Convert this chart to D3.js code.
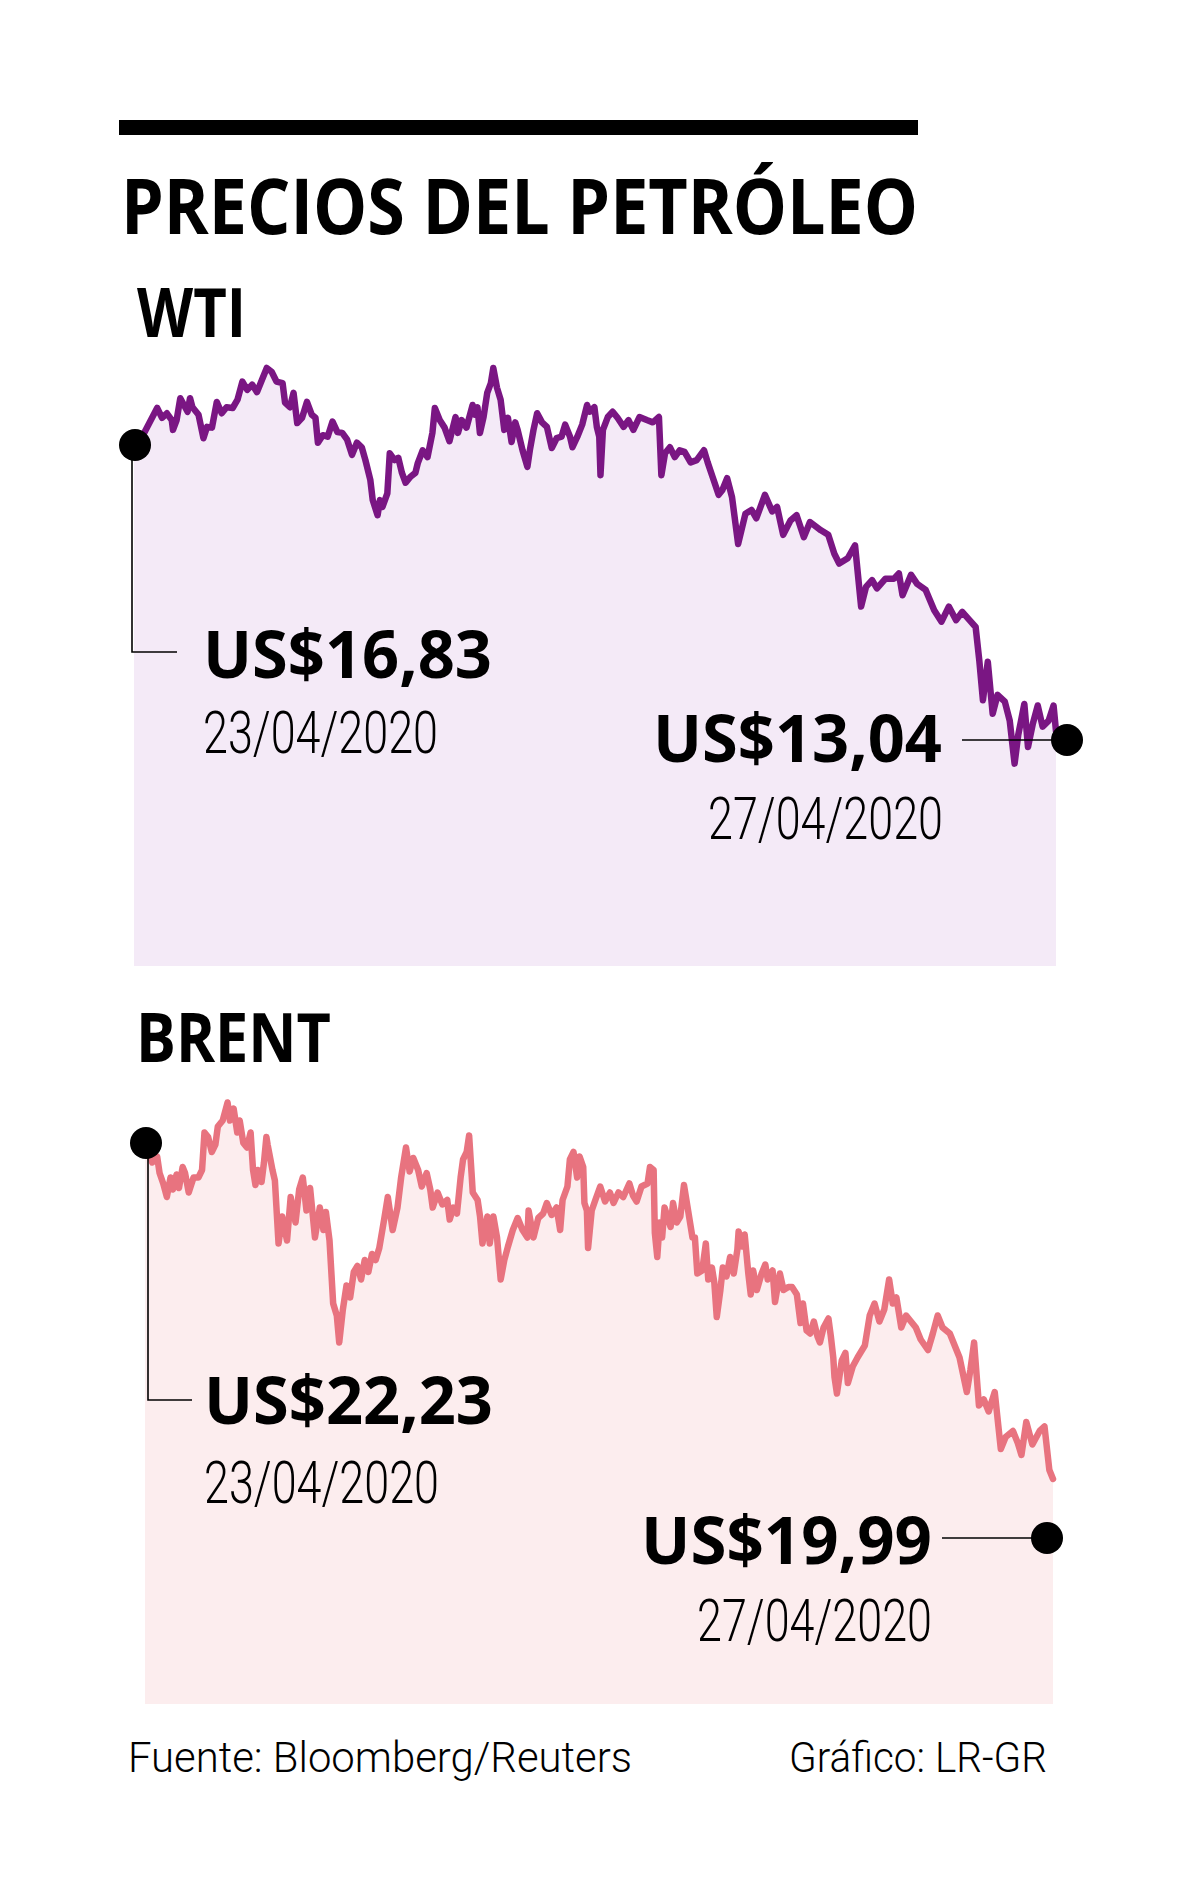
<!DOCTYPE html>
<html>
<head>
<meta charset="utf-8">
<script src="https://cdn.jsdelivr.net/npm/d3@7"></script>
<style>
html,body{margin:0;padding:0;background:#fff;}
svg{display:block;}
</style>
</head>
<body>
<svg id="chart" width="1200" height="1900"></svg>
<script>
// ---------- DATA ----------
const title = "PRECIOS DEL PETRÓLEO";
const seriesNames = ["WTI", "BRENT"];
const startDates = ["23/04/2020", "23/04/2020"];
const endDates = ["27/04/2020", "27/04/2020"];
const startLabels = ["US$16,83", "US$22,23"];
const endLabels = ["US$13,04", "US$19,99"];
const source = "Fuente: Bloomberg/Reuters";
const credit = "Gráfico: LR-GR";

// [time step, price US$] intraday samples 23/04 -> 27/04
const wti = [[0,16.83],[8,16.98],[19,17.32],[23,17.19],[27,17.25],[31,17.16],[32,17.03],[35,17.16],[38,17.45],[40,17.39],[44,17.27],[46,17.45],[48,17.33],[53,17.23],[57,16.92],[60,17.07],[64,17.06],[68,17.40],[72,17.25],[76,17.33],[81,17.32],[85,17.43],[89,17.67],[93,17.56],[97,17.63],[101,17.53],[105,17.69],[109,17.85],[113,17.80],[117,17.67],[122,17.65],[124,17.39],[128,17.33],[131,17.52],[134,17.12],[138,17.19],[142,17.40],[146,17.23],[149,17.19],[151,16.86],[155,16.96],[159,16.94],[163,17.14],[167,17.00],[171,16.99],[175,16.90],[179,16.70],[183,16.86],[187,16.80],[190,16.63],[194,16.37],[196,16.10],[200,15.90],[202,16.10],[204,16.01],[208,16.19],[210,16.72],[214,16.63],[217,16.66],[220,16.46],[223,16.33],[227,16.41],[231,16.46],[233,16.59],[237,16.76],[241,16.67],[245,16.99],[247,17.32],[251,17.16],[255,17.06],[259,16.88],[264,17.20],[266,16.99],[269,17.16],[273,17.06],[278,17.36],[280,17.23],[282,17.33],[284,16.99],[287,17.20],[290,17.52],[293,17.65],[295,17.85],[298,17.59],[301,17.43],[304,17.03],[307,17.19],[310,16.87],[313,17.13],[315,17.03],[319,16.76],[323,16.54],[325,16.76],[328,17.03],[331,17.25],[335,17.13],[339,17.07],[343,16.79],[347,16.92],[351,16.94],[354,17.10],[358,16.94],[360,16.80],[364,16.94],[368,17.10],[372,17.36],[374,17.27],[378,17.33],[380,17.07],[382,16.94],[383,16.43],[385,17.03],[389,17.20],[393,17.27],[397,17.19],[402,17.07],[406,17.16],[410,17.03],[415,17.20],[421,17.16],[426,17.13],[431,17.20],[433,16.43],[436,16.72],[440,16.80],[444,16.67],[448,16.76],[452,16.74],[457,16.60],[462,16.63],[468,16.76],[471,16.60],[475,16.41],[480,16.17],[483,16.23],[487,16.39],[491,16.14],[496,15.52],[502,15.92],[507,15.97],[511,15.86],[518,16.17],[524,15.95],[528,16.01],[533,15.64],[539,15.83],[544,15.90],[550,15.61],[555,15.81],[564,15.70],[570,15.64],[575,15.39],[579,15.26],[586,15.33],[592,15.50],[597,14.69],[601,14.95],[606,15.04],[610,14.93],[617,15.06],[624,15.06],[628,15.13],[631,14.84],[638,15.11],[643,14.99],[650,14.91],[657,14.64],[663,14.49],[669,14.69],[675,14.51],[680,14.62],[686,14.51],[691,14.42],[694,13.98],[697,13.45],[701,13.96],[705,13.27],[709,13.52],[715,13.43],[719,13.18],[723,12.61],[726,12.99],[731,13.40],[734,12.83],[738,13.14],[742,13.38],[746,13.10],[751,13.18],[755,13.38],[757,13.04]];

const brent = [[0,22.23],[6,22.10],[10,22.14],[12,22.03],[15,21.96],[18,21.87],[21,22.00],[23,21.92],[26,22.02],[28,21.93],[31,22.07],[33,22.03],[36,21.90],[40,22.00],[44,22.00],[47,22.05],[49,22.30],[52,22.27],[55,22.17],[58,22.22],[60,22.34],[64,22.38],[68,22.50],[70,22.38],[73,22.46],[76,22.30],[78,22.38],[81,22.23],[84,22.20],[87,22.30],[89,22.05],[91,21.95],[93,22.05],[96,21.97],[98,22.10],[100,22.27],[101,22.22],[105,22.05],[107,21.98],[110,21.56],[113,21.74],[117,21.58],[120,21.87],[124,21.70],[127,21.92],[130,22.00],[133,21.78],[136,21.93],[140,21.60],[144,21.80],[147,21.65],[149,21.77],[152,21.58],[155,21.16],[158,21.08],[160,20.90],[163,21.12],[166,21.28],[169,21.20],[172,21.37],[175,21.41],[178,21.32],[181,21.45],[184,21.37],[187,21.49],[190,21.45],[193,21.53],[197,21.72],[200,21.87],[204,21.65],[208,21.80],[211,22.00],[213,22.10],[215,22.20],[218,22.04],[221,22.13],[225,22.05],[228,21.94],[232,22.03],[235,21.92],[237,21.80],[241,21.90],[245,21.82],[249,21.85],[251,21.72],[254,21.80],[257,21.76],[260,22.00],[262,22.12],[265,22.17],[267,22.28],[269,22.03],[270,21.90],[274,21.85],[276,21.74],[278,21.56],[282,21.74],[284,21.56],[287,21.74],[290,21.60],[293,21.32],[296,21.45],[299,21.54],[303,21.65],[307,21.73],[311,21.65],[315,21.60],[316,21.78],[320,21.60],[324,21.73],[328,21.76],[331,21.83],[335,21.75],[339,21.80],[342,21.65],[344,21.85],[348,21.94],[350,22.12],[353,22.17],[356,22.00],[358,22.14],[361,22.07],[362,21.83],[364,21.78],[365,21.53],[368,21.78],[371,21.85],[375,21.94],[379,21.84],[383,21.90],[386,21.83],[390,21.90],[394,21.87],[399,21.96],[402,21.88],[405,21.84],[409,21.94],[414,21.96],[416,22.07],[419,22.05],[420,21.63],[422,21.47],[424,21.70],[426,21.60],[428,21.80],[433,21.67],[435,21.83],[438,21.70],[441,21.74],[444,21.95],[447,21.80],[451,21.60],[453,21.60],[455,21.36],[459,21.38],[462,21.56],[464,21.32],[467,21.40],[469,21.30],[471,21.07],[474,21.25],[476,21.40],[479,21.34],[482,21.47],[485,21.36],[488,21.52],[489,21.64],[492,21.54],[494,21.62],[497,21.36],[499,21.22],[501,21.38],[504,21.25],[508,21.36],[511,21.42],[513,21.32],[517,21.38],[519,21.17],[523,21.36],[526,21.25],[530,21.27],[533,21.27],[537,21.22],[540,21.03],[542,21.16],[545,20.98],[548,20.96],[551,21.04],[554,20.94],[556,20.90],[559,21.00],[563,21.06],[565,20.94],[567,20.80],[568,20.67],[570,20.56],[574,20.78],[577,20.83],[579,20.63],[583,20.74],[587,20.80],[593,20.88],[597,21.08],[601,21.16],[605,21.04],[609,21.12],[613,21.32],[616,21.16],[619,21.20],[623,21.00],[627,21.08],[631,21.04],[635,21.00],[639,20.92],[645,20.85],[649,20.96],[653,21.08],[657,21.00],[663,20.96],[667,20.88],[671,20.80],[677,20.57],[680,20.72],[683,20.90],[687,20.48],[691,20.52],[695,20.44],[700,20.57],[705,20.19],[709,20.27],[715,20.31],[719,20.23],[722,20.15],[726,20.37],[731,20.22],[737,20.31],[741,20.34],[745,20.05],[748,19.99]];

// ---------- DRAW ----------
const svg = d3.select("#chart");
const boldFont = "'Open Sans', 'Noto Sans', sans-serif";
const lightFont = "Roboto, 'Open Sans', sans-serif";

svg.append("rect").attr("x",119).attr("y",120).attr("width",799).attr("height",15).attr("fill","#000");

function txt(s, x, y, size, weight, len, font){
  return svg.append("text").attr("x",x).attr("y",y)
    .attr("font-family",font).attr("font-size",size).attr("font-weight",weight)
    .attr("fill","#000").attr("textLength",len).attr("lengthAdjust","spacingAndGlyphs")
    .text(s);
}

txt(title, 121, 234, 77, 700, 797, boldFont);

const panels = [
  {name: seriesNames[0], data: wti, line:"#7a1683", fill:"#f4eaf7",
   nameX:137, nameY:337, nameLen:109,
   xr:[134,1056], yd:[9.93,17.9], yr:[966,364.2],
   lead0:{x:132, y1:652, x2:177},
   lab0:{x:203, y:678, dy:753},
   lab1:{x:653, y:762, dx:708, dy:839, len:289},
   end:{x1:962, x:1067, y:740}},
  {name: seriesNames[1], data: brent, line:"#e8737f", fill:"#fcedee",
   nameX:136, nameY:1062, nameLen:195,
   xr:[145,1053], yd:[18.49,22.6], yr:[1704,1087.5],
   lead0:{x:148, y1:1400, x2:192},
   lab0:{x:204, y:1424, dy:1503},
   lab1:{x:641, y:1564, dx:697, dy:1641, len:291},
   end:{x1:942, x:1047, y:1538}}
];

panels.forEach((p,i)=>{
  const data = p.data.map(d=>({t:d[0], v:d[1]}));
  const x = d3.scaleLinear().domain(d3.extent(data, d=>d.t)).range(p.xr);
  const y = d3.scaleLinear().domain(p.yd).range(p.yr);
  const g = svg.append("g");

  g.append("path").datum(data)
    .attr("d", d3.area().x(d=>x(d.t)).y0(y(p.yd[0])).y1(d=>y(d.v)))
    .attr("fill", p.fill);
  g.append("path").datum(data)
    .attr("d", d3.line().x(d=>x(d.t)).y(d=>y(d.v)))
    .attr("fill","none").attr("stroke",p.line).attr("stroke-width",6.5)
    .attr("stroke-linejoin","round").attr("stroke-linecap","round");

  txt(p.name, p.nameX, p.nameY, 68, 700, p.nameLen, boldFont);

  const sx = x(data[0].t), sy = y(data[0].v);
  g.append("path")
    .attr("d", `M${p.lead0.x},${sy}V${p.lead0.y1}H${p.lead0.x2}`)
    .attr("fill","none").attr("stroke","#000").attr("stroke-width",1.6);
  g.append("circle").attr("cx",sx+1).attr("cy",sy).attr("r",16).attr("fill","#000");
  txt(startLabels[i], p.lab0.x, p.lab0.y, 67, 700, 289, boldFont);
  txt(startDates[i], p.lab0.x, p.lab0.dy, 60, 300, 235, lightFont);

  g.append("line").attr("x1",p.end.x1).attr("x2",p.end.x).attr("y1",p.end.y).attr("y2",p.end.y)
    .attr("stroke","#000").attr("stroke-width",1.6);
  g.append("circle").attr("cx",p.end.x).attr("cy",p.end.y).attr("r",16).attr("fill","#000");
  txt(endLabels[i], p.lab1.x, p.lab1.y, 67, 700, p.lab1.len, boldFont);
  txt(endDates[i], p.lab1.dx, p.lab1.dy, 60, 300, 235, lightFont);
});

txt(source, 128, 1772, 42, 300, 504, lightFont);
txt(credit, 789, 1772, 42, 300, 258, lightFont);
</script>
</body>
</html>
